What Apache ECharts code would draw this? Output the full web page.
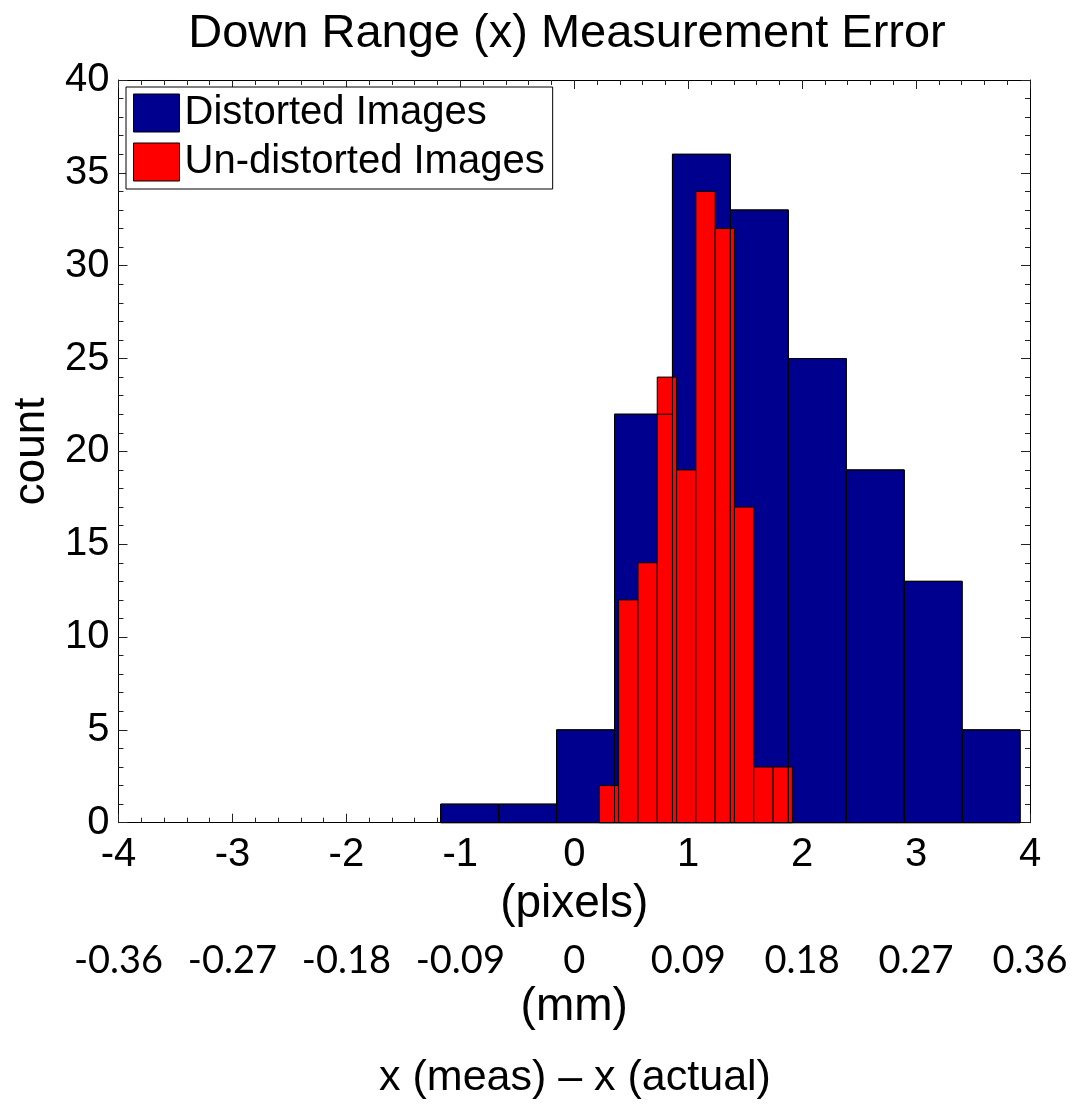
<!DOCTYPE html>
<html>
<head>
<meta charset="utf-8">
<script src="https://cdn.jsdelivr.net/npm/echarts@6/dist/echarts.min.js"></script>
<style>
  html, body { margin: 0; padding: 0; background: #fff; }
  #main { width: 1086px; height: 1104px; }
</style>
</head>
<body>
<div id="main"></div>
<script>
// bin centers (pixels) and counts
var blueCenters = [-0.918, -0.409, 0.099, 0.608, 1.116, 1.625, 2.133, 2.642, 3.150, 3.659];
var blueCounts  = [1, 1, 5, 22, 36, 33, 25, 19, 13, 5];
var redCenters  = [0.305, 0.474, 0.644, 0.813, 0.983, 1.152, 1.321, 1.491, 1.660, 1.830];
var redCounts   = [2, 12, 14, 24, 19, 34, 32, 17, 3, 3];
var blueWidth = 0.5084, redWidth = 0.1694;
// second x axis labels (mm), one per pixel tick
var mmLabels = ['-0.36', '-0.27', '-0.18', '-0.09', '0', '0.09', '0.18', '0.27', '0.36'];
var seriesNames = ['Distorted Images', 'Un-distorted Images'];

var FONT = '"Liberation Sans", Arial, sans-serif';
var myChart = echarts.init(document.getElementById('main'), null, { renderer: 'canvas' });

function zip(xs, ys) {
	var out = [];
	for (var i = 0; i < xs.length; i++) out.push([xs[i], ys[i]]);
	return out;
}

// draws one histogram bar from [center, count] through the axes
function barRenderer(width, filled) {
	return function(params, api) {
		var x = api.value(0), h = api.value(1);
		var p0 = api.coord([x - width / 2, h]);
		var p1 = api.coord([x + width / 2, 0]);
		return {
			type : 'rect',
			shape : { x : p0[0], y : p0[1], width : p1[0] - p0[0], height : p1[1] - p0[1] },
			style : filled ? api.style({ stroke : '#000', lineWidth : 1 }) : { fill : null, stroke : '#000', lineWidth : 1 }
		};
	};
}

function tickAxisX(extra) {
	return echarts.util.merge({
		type : 'value', min : -4, max : 4, interval : 1,
		axisLine : { onZero : false, lineStyle : { color : '#000', width : 1 } },
		axisTick : { inside : true, length : 9, lineStyle : { color : '#222' } },
		minorTick : { show : true, splitNumber : 5, length : 5, lineStyle : { color : '#222' } },
		splitLine : { show : false }
	}, extra, true);
}
function tickAxisY(extra) {
	return echarts.util.merge({
		type : 'value', min : 0, max : 40, interval : 5,
		axisLine : { show : true, onZero : false, lineStyle : { color : '#000', width : 1 } },
		axisTick : { show : true, inside : true, length : 9, lineStyle : { color : '#222' } },
		minorTick : { show : true, splitNumber : 5, length : 5, lineStyle : { color : '#222' } },
		splitLine : { show : false }
	}, extra, true);
}

var option = {
	backgroundColor : '#fff',
	animation : false,
	title : {
		text : 'Down Range (x) Measurement Error',
		left : 562, top : 6, textAlign : 'center',
		textStyle : { fontFamily : FONT, fontSize : 47, fontWeight : 'normal', color : '#000' }
	},
	grid : { left : 118.5, right : 56, top : 80, bottom : 281.3, containLabel : false },
	legend : {
		data : seriesNames,
		orient : 'vertical',
		left : 126, top : 87,
		padding : [6, 8, 7, 7],
		itemGap : 9, itemWidth : 46, itemHeight : 38,
		icon : 'rect',
		backgroundColor : '#fff', borderColor : '#000', borderWidth : 1,
		itemStyle : { borderColor : '#000', borderWidth : 1 },
		textStyle : { fontFamily : FONT, fontSize : 40, color : '#000' }
	},
	xAxis : [
		tickAxisX({
			position : 'bottom',
			name : '(pixels)', nameLocation : 'middle', nameGap : 59,
			nameTextStyle : { fontFamily : FONT, fontSize : 46, color : '#000' },
			axisLabel : { margin : 12, fontFamily : FONT, fontSize : 40, color : '#000' }
		}),
		tickAxisX({
			position : 'top',
			axisLabel : { show : false }
		}),
		{
			type : 'value', min : -4, max : 4, interval : 1, position : 'bottom',
			axisLine : { show : false }, axisTick : { show : false }, splitLine : { show : false },
			name : '(mm)', nameLocation : 'middle', nameGap : 160,
			nameTextStyle : { fontFamily : FONT, fontSize : 46, color : '#000' },
			axisLabel : {
				margin : 119, fontFamily : 'Lato, "Open Sans", sans-serif', fontSize : 38, color : '#000',
				formatter : function(v) { return mmLabels[Math.round(v) + 4]; }
			}
		}
	],
	yAxis : [
		tickAxisY({
			position : 'left',
			name : 'count', nameLocation : 'middle', nameGap : 55,
			nameTextStyle : { fontFamily : FONT, fontSize : 44, color : '#000' },
			axisLabel : { margin : 9, fontFamily : FONT, fontSize : 40, color : '#000' }
		}),
		tickAxisY({
			position : 'right',
			axisLabel : { show : false }
		})
	],
	series : [
		{
			name : seriesNames[0], type : 'custom', xAxisIndex : 0, yAxisIndex : 0,
			itemStyle : { color : '#00008f' },
			renderItem : barRenderer(blueWidth, true),
			data : zip(blueCenters, blueCounts), z : 2
		},
		{
			name : seriesNames[1], type : 'custom', xAxisIndex : 0, yAxisIndex : 0,
			itemStyle : { color : '#ff0000' },
			renderItem : barRenderer(redWidth, true),
			data : zip(redCenters, redCounts), z : 3
		},
		{
			// blue outlines show through the red bars
			name : 'outline', type : 'custom', xAxisIndex : 0, yAxisIndex : 0, silent : true,
			renderItem : barRenderer(blueWidth, false),
			data : zip(blueCenters, blueCounts), z : 4
		}
	],
	graphic : [{
		type : 'text', x : 575, y : 1057,
		style : { text : 'x (meas) \u2013 x (actual)', fontFamily : FONT, fontSize : 43, fill : '#000', align : 'center' }
	}]
};

myChart.setOption(option);
</script>
</body>
</html>
